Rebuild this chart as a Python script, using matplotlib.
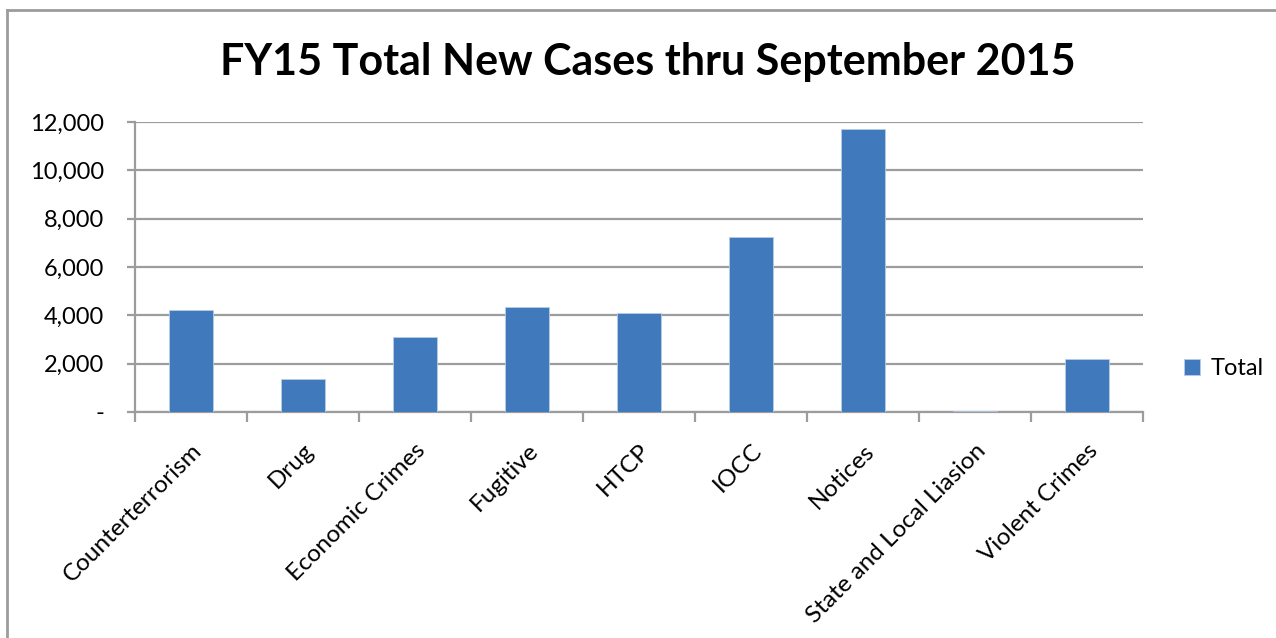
import matplotlib.pyplot as plt
from matplotlib.lines import Line2D
from matplotlib.ticker import FuncFormatter

categories = ['Counterterrorism', 'Drug', 'Economic Crimes', 'Fugitive', 'HTCP',
              'IOCC', 'Notices', 'State and Local Liasion', 'Violent Crimes']
totals = [4220, 1370, 3120, 4330, 4080, 7240, 11710, 50, 2190]
y_ticks = [0, 2000, 4000, 6000, 8000, 10000, 12000]

plt.rcParams['font.family'] = ['Lato', 'DejaVu Sans']

W, H = 1276, 638
fig = plt.figure(figsize=(W / 100, H / 100), dpi=100)
ax = fig.add_axes([135 / W, 1 - 412 / H, (1143 - 135) / W, (412 - 122) / H])

grey = '#9c9c9c'
blue = '#4179BD'

xs = range(len(categories))
ax.bar(xs, totals, width=0.4, color=blue, edgecolor='#b9cde6', linewidth=0.6,
       label='Total', zorder=3)

ax.set_xlim(-0.5, len(categories) - 0.5)
ax.set_ylim(0, 12000)
ax.set_yticks(y_ticks)
ax.yaxis.set_major_formatter(FuncFormatter(lambda v, p: '-' if v == 0 else f'{int(v):,}'))
ax.yaxis.grid(True, color=grey, linewidth=1.6, zorder=0)
ax.tick_params(axis='y', length=6, width=1.6, color=grey, labelsize=17, pad=16)

# category boundaries as ticks
ax.set_xticks([i - 0.5 for i in range(len(categories) + 1)], minor=False)
ax.set_xticklabels([])
ax.set_xticks(list(xs), minor=True)
ax.set_xticklabels(categories, minor=True, rotation=45, ha='right',
                   rotation_mode='anchor', fontsize=17.5)
ax.tick_params(axis='x', which='minor', length=0, pad=20)
ax.tick_params(axis='x', which='major', length=7, width=1.6, color=grey)

for s in ['top', 'right']:
    ax.spines[s].set_visible(False)
for s in ['left', 'bottom']:
    ax.spines[s].set_color(grey)
    ax.spines[s].set_linewidth(1.6)

fig.suptitle('FY15 Total New Cases thru September 2015', x=648 / W, y=1 - 62 / H,
             va='center', fontsize=31, fontweight='bold')

ax.legend(loc='center left', bbox_to_anchor=(1.02, 0.15), frameon=False,
          fontsize=17, handlelength=0.65, handleheight=0.65, handletextpad=0.45)

# outer chart border
fig.add_artist(Line2D([7 / W, 7 / W], [0, 1 - 10 / H], color=grey, linewidth=2))
fig.add_artist(Line2D([7 / W, 1], [1 - 10 / H, 1 - 10 / H], color=grey, linewidth=2))

fig.savefig('out.png', dpi=100)
